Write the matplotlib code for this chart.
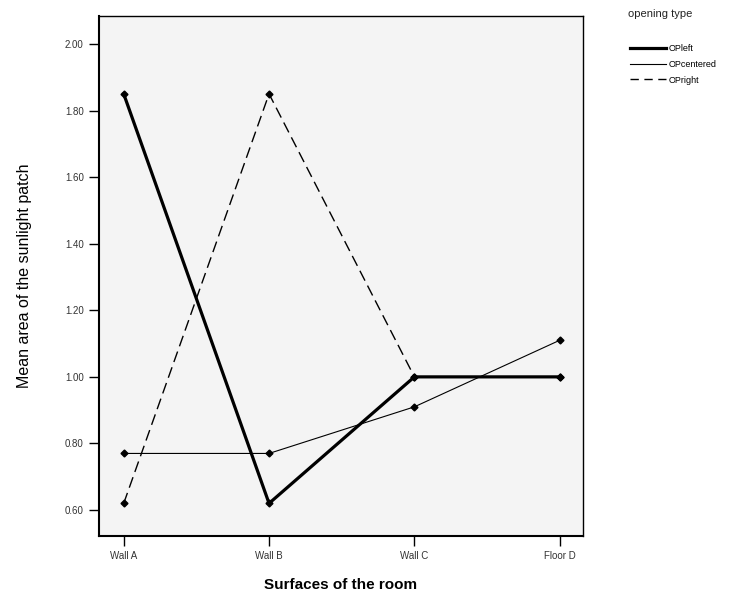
import numpy as np
import matplotlib.pyplot as plt
from matplotlib.lines import Line2D

plt.rcParams['font.family'] = ['Liberation Sans', 'DejaVu Sans']

# Datos
surfaces = ['Wall A', 'Wall B', 'Wall C', 'Floor D']
op_left = [1.85, 0.62, 1.00, 1.00]
op_centered = [0.77, 0.77, 0.91, 1.11]
op_right = [0.62, 1.85, 1.00, 1.00]
y_ticks = [0.60, 0.80, 1.00, 1.20, 1.40, 1.60, 1.80, 2.00]

x = np.arange(len(surfaces))

fig = plt.figure(figsize=(7.46, 5.96), dpi=100)
ax = fig.add_axes([99 / 746, 60 / 596, 484 / 746, 520 / 596])
ax.set_facecolor('#f4f4f4')

dash = (0, (8, 4))
ax.plot(x, op_right, color='black', linewidth=1.0, linestyle=dash,
        marker='D', markersize=3.5, zorder=3)
ax.plot(x, op_centered, color='black', linewidth=0.8,
        marker='D', markersize=3.5, zorder=3)
ax.plot(x, op_left, color='black', linewidth=2.3,
        marker='D', markersize=3.5, zorder=4)

ax.set_xlim(-0.17, 3.16)
ax.set_ylim(0.522, 2.084)
ax.set_xticks(x)
ax.set_xticklabels(surfaces, fontsize=7, color='#333333')
ax.set_yticks(y_ticks)
ax.set_yticklabels(['%.2f' % v for v in y_ticks], fontsize=7, color='#333333')
ax.tick_params(axis='both', direction='out', length=7, width=1.0, pad=4)

for s in ['left', 'bottom']:
    ax.spines[s].set_linewidth(1.5)
for s in ['top', 'right']:
    ax.spines[s].set_linewidth(1.0)

ax.set_xlabel('Surfaces of the room', fontsize=11, fontweight='bold', labelpad=12)
ax.set_ylabel('Mean area of the sunlight patch', fontsize=11.5, labelpad=24)

# Leyenda fuera del área de trazado
fig.text(628 / 746, 1 - 14 / 596, 'opening type', fontsize=8, color='#222222',
         ha='left', va='center')
handles = [
    Line2D([], [], color='black', linewidth=2.3),
    Line2D([], [], color='black', linewidth=0.8),
    Line2D([], [], color='black', linewidth=1.0, linestyle=(0, (6, 4))),
]
labels = ['OPleft', 'OPcentered', 'OPright']
fig.legend(handles, labels, loc='upper left',
           bbox_to_anchor=(630 / 746, 1 - 44 / 596),
           frameon=False, fontsize=6.5, handlelength=4.0,
           handletextpad=0.3, labelspacing=0.75, borderaxespad=0,
           borderpad=0)

plt.savefig('out.png', dpi=100)
